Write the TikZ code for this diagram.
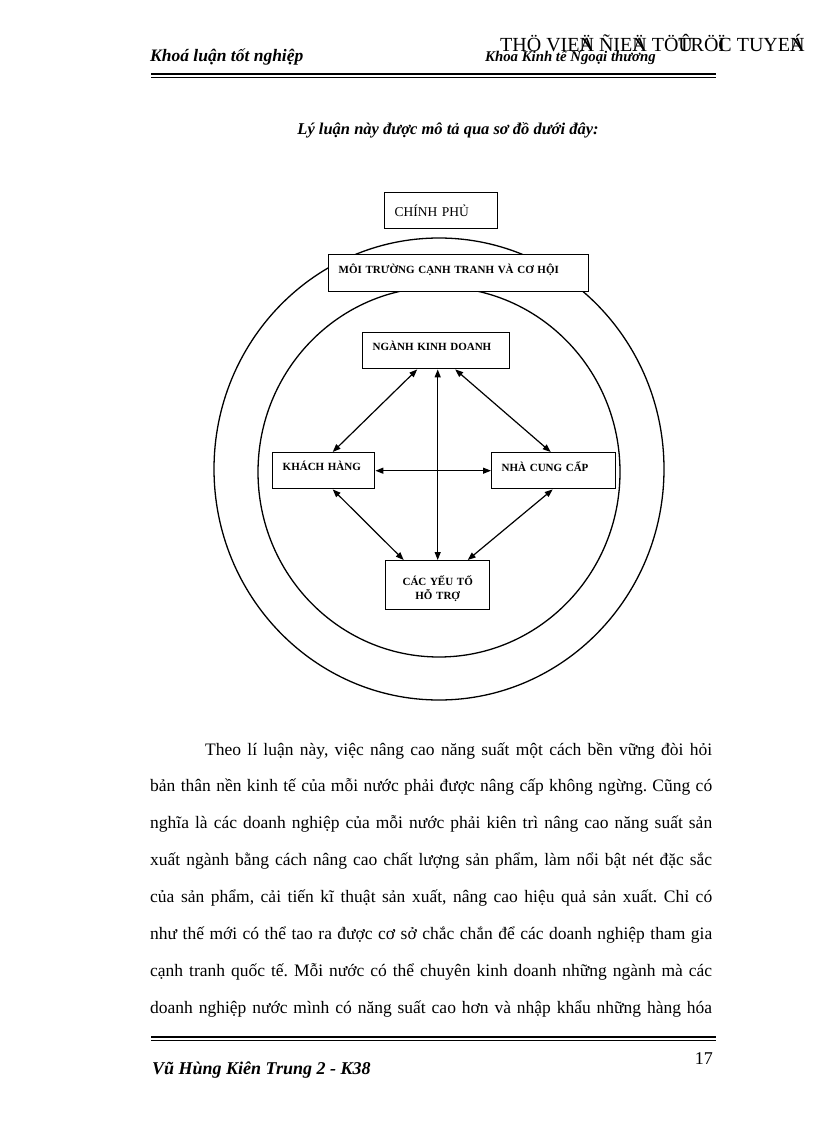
\documentclass[tikz,border=0pt]{standalone}
\usepackage{fontspec}
\setmainfont{Liberation Serif}
\usetikzlibrary{arrows.meta}
\frenchspacing

\begin{document}
\begin{tikzpicture}[x=1pt,y=-1pt,
    box/.style={draw,line width=1.4pt,fill=white,anchor=north west,
                inner xsep=10pt,inner ysep=0pt,align=left,text depth=9pt,
                font=\fontsize{11}{14}\selectfont\bfseries},
    link/.style={{Triangle[length=8pt,width=6pt]}-{Triangle[length=8pt,width=6pt]},
                 line width=1.2pt},
    ring/.style={line width=1.3pt},
    bodyline/.style={anchor=base west,inner sep=0pt,
                     font=\fontsize{17.5}{37}\selectfont},
    script/.style={anchor=base west,inner sep=0pt,
                   font=\fontsize{17.5}{20}\selectfont\bfseries\itshape}]
  \useasboundingbox (0,0) rectangle (816,1123);

  % page header and footer
  \node[anchor=base west,inner sep=0pt,font=\fontsize{20}{22}\selectfont]
    (stamp) at (500,52) {THÖ VIE\rlap{Ä}N ÑIE\rlap{Ä}N TÖ\rlap{Û}TRÖ\rlap{Ï}C TUYE\rlap{Á}N};
  \node[script] (hleft) at (150,62) {Khoá luận tốt nghiệp};
  \node[script,font=\fontsize{14.8}{18}\selectfont\bfseries\itshape]
    (hright) at (485,62) {Khoa Kinh tế Ngoại thương};
  \draw[line width=2.5pt] (151,74) -- (716,74);
  \draw[line width=1pt] (151,77.5) -- (716,77.5);
  \draw[line width=2.5pt] (151,1037) -- (716,1037);
  \draw[line width=1pt] (151,1040.5) -- (716,1040.5);
  \node[anchor=base east,inner sep=0pt,font=\fontsize{18}{20}\selectfont]
    (pageno) at (713,1064) {17};
  \node[script,font=\fontsize{18}{20}\selectfont\bfseries\itshape]
    (author) at (152,1074) {Vũ Hùng Kiên Trung 2 - K38};

  \node[anchor=base,inner sep=0pt,font=\fontsize{16.5}{20}\selectfont\bfseries\itshape]
    (caption) at (448,135) {Lý luận này được mô tả qua sơ đồ dưới đây:};

  % rings
  \draw[ring] (439,469) ellipse [x radius=225pt,y radius=231pt];
  \draw[ring] (439,472) ellipse [x radius=181pt,y radius=185pt];

  % boxes
  \node[box,text depth=0pt,minimum height=36pt,text width=93pt,
        font=\fontsize{13.5}{16}\selectfont] (gov) at (384,192) {CHÍNH PHỦ};
  \node[box,minimum height=37pt,text width=240pt] (env) at (328,254)
    {MÔI TRƯỜNG CẠNH TRANH VÀ CƠ HỘI};
  \node[box,minimum height=36pt,text width=127pt] (nganh) at (362,332)
    {NGÀNH KINH DOANH};
  \node[box,minimum height=36pt,text width=82pt] (khach) at (272,452)
    {KHÁCH HÀNG};
  \node[box,minimum height=36pt,text width=104pt] (nha) at (491,452)
    {NHÀ CUNG CẤP};
  \node[box,minimum height=49pt,text width=84pt,align=center] (cac) at (385,560)
    {CÁC YẾU TỐ\\HỖ TRỢ};

  % links
  \draw[link] (cac.north) -- (cac.north |- nganh.south);
  \draw[link] (khach.east) -- (nha.west);
  \draw[link] ([xshift=-19pt]nganh.south) -- ([xshift=9pt]khach.north);
  \draw[link] ([xshift=19pt]nganh.south) -- ([xshift=-3pt]nha.north);
  \draw[link] ([xshift=9pt]khach.south) -- ([xshift=-34pt]cac.north);
  \draw[link] ([xshift=-1pt]nha.south) -- ([xshift=30pt]cac.north);

  % body text
  \node[bodyline] (line1) at (205,755)
    {\makebox[507pt][s]{Theo lí luận này, việc nâng cao năng suất một cách bền vững đòi hỏi}};
  \foreach \k/\t in {2/{bản thân nền kinh tế của mỗi nước phải được nâng cấp không ngừng. Cũng có},
                     3/{nghĩa là các doanh nghiệp của mỗi nước phải kiên trì nâng cao năng suất sản},
                     4/{xuất ngành bằng cách nâng cao chất lượng sản phẩm, làm nổi bật nét đặc sắc},
                     5/{của sản phẩm, cải tiến kĩ thuật sản xuất, nâng cao hiệu quả sản xuất. Chỉ có},
                     6/{như thế mới có thể tao ra được cơ sở chắc chắn để các doanh nghiệp tham gia},
                     7/{cạnh tranh quốc tế. Mỗi nước có thể chuyên kinh doanh những ngành mà các},
                     8/{doanh nghiệp nước mình có năng suất cao hơn và nhập khẩu những hàng hóa}}
    \node[bodyline] (line\k) at (150,755+36.9*\k-36.9) {\makebox[562pt][s]{\t}};
\end{tikzpicture}
\end{document}
